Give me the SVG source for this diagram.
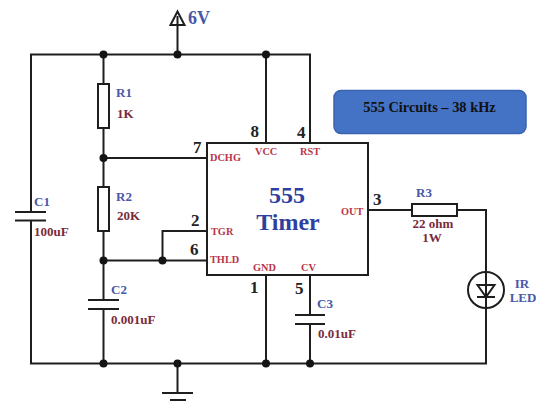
<svg xmlns="http://www.w3.org/2000/svg" width="536" height="406" viewBox="0 0 536 406">
<style>
text{font-family:"Liberation Serif",serif;font-weight:bold}
.w{fill:none;stroke:#1e1e1e;stroke-width:2}
.b{fill:#fff;stroke:#1e1e1e;stroke-width:2}
.d{fill:#141414}
.n{font-size:17px;fill:#222}
.blue{font-size:13px;fill:#4a58a8}
.val{font-size:13px;fill:#7a2a3a}
.pin{font-size:10.300px;fill:#b8344a}
.t{font-size:24px;fill:#2f3f9f;text-anchor:middle}
</style>
<rect width="536" height="406" fill="#fff"/>
<g id="connectors">
<path class="w" d="M177.500 16V54.500M31 212V54.500H310V143M31 220V363.500H486V308M486 272V210H458M412 210H368M266 54.500V143M103.500 54.500V84M103.500 128V187M103.500 158H207M103.500 231V300M103.500 309V363.500M103.500 260.500H207M162.500 260.500V231H207M266 275V363.500M310 275V315M310 324V363.500M177.500 363.500V393"/>
<path class="w" d="M15 212H46M15 220.500H46M88 300H119M88 309H119M295 315H325M295 324H325M162 393H193M170 400H186"/>
</g>
<g id="power"><path class="w" d="M177.500 11.500L170.500 25H184.500Z"/><text x="188" y="24" style="font-size:18px;fill:#4a58a8">6V</text></g>
<g id="junctions" class="d">
<circle cx="103.500" cy="54.500" r="4"/><circle cx="177.500" cy="54.500" r="4"/><circle cx="266" cy="54.500" r="4"/>
<circle cx="103.500" cy="158" r="4"/><circle cx="103.500" cy="260.500" r="4"/><circle cx="162.500" cy="260.500" r="4"/>
<circle cx="103.500" cy="363.500" r="4"/><circle cx="177.500" cy="363.500" r="4"/><circle cx="266" cy="363.500" r="4"/><circle cx="310" cy="363.500" r="4"/>
</g>
<g id="r1"><rect class="b" x="98" y="84" width="11" height="44"/><text class="blue" x="116" y="97">R1</text><text class="val" x="117" y="118">1K</text></g>
<g id="r2"><rect class="b" x="98" y="187" width="11" height="44"/><text class="blue" x="116" y="201">R2</text><text class="val" x="117" y="220">20K</text></g>
<g id="c1"><text class="blue" x="34" y="206">C1</text><text class="val" x="34" y="236">100uF</text></g>
<g id="c2"><text class="blue" x="111" y="294">C2</text><text class="val" x="111" y="324">0.001uF</text></g>
<g id="c3"><text class="blue" x="317" y="308">C3</text><text class="val" x="318" y="338">0.01uF</text></g>
<g id="timer">
<rect class="b" x="207" y="143" width="161" height="132"/>
<text class="t" x="287" y="203">555</text><text class="t" x="288" y="230">Timer</text>
<text class="pin" x="210" y="161">DCHG</text><text class="pin" x="255" y="155">VCC</text><text class="pin" x="300" y="155">RST</text>
<text class="pin" x="211" y="235">TGR</text><text class="pin" x="210" y="263">THLD</text><text class="pin" x="341" y="215">OUT</text>
<text class="pin" x="253" y="271">GND</text><text class="pin" x="301" y="271">CV</text>
<text class="n" x="250.500" y="137">8</text><text class="n" x="297" y="138">4</text><text class="n" x="193" y="153">7</text>
<text class="n" x="191" y="226">2</text><text class="n" x="190" y="255">6</text><text class="n" x="250" y="293">1</text>
<text class="n" x="295" y="294">5</text><text class="n" x="373" y="205">3</text>
</g>
<g id="r3"><rect class="b" x="412" y="204" width="45" height="12"/><text class="blue" x="416" y="197">R3</text><text class="val" x="433" y="227.500" text-anchor="middle">22 ohm</text><text class="val" x="432" y="242" text-anchor="middle">1W</text></g>
<g id="led"><circle class="b" cx="486" cy="290" r="18"/><path class="w" d="M486 272V308M477 297H495"/><path class="w" d="M477.500 285H494.500L486 297Z"/><text class="blue" x="522" y="288" text-anchor="middle">IR</text><text class="blue" x="523" y="302" text-anchor="middle">LED</text></g>
<g id="title"><rect x="334" y="90.500" width="192" height="43" rx="7" fill="#4472c4" stroke="#3a64b0" stroke-width="1.500"/><text x="429.500" y="112" text-anchor="middle" style="font-size:14.400px;fill:#111">555 Circuits – 38 kHz</text></g>
</svg>
